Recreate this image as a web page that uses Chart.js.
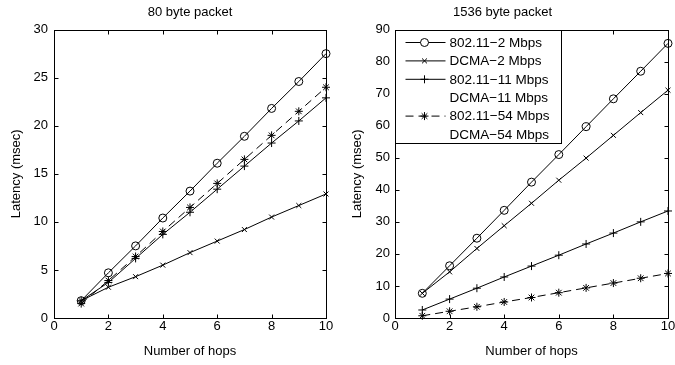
<!DOCTYPE html>
<html>
<head>
<meta charset="utf-8">
<script src="https://cdn.jsdelivr.net/npm/chart.js@4.4.0/dist/chart.umd.min.js"></script>
<style>
  html, body { margin: 0; padding: 0; background: #fff; overflow: hidden; }
  body { width: 675px; height: 365px; position: relative; }
  .box { position: absolute; top: 0; height: 365px; }
  #leftBox { left: 0; width: 337px; }
  #rightBox { left: 337px; width: 362px; }
</style>
</head>
<body>
<div class="box" id="leftBox"><canvas id="chart80"></canvas></div>
<div class="box" id="rightBox"><canvas id="chart1536"></canvas></div>
<script>
// hop counts on the x axis
var hops = [1, 2, 3, 4, 5, 6, 7, 8, 9, 10];
var seriesNames = ['802.11\u22122 Mbps', 'DCMA\u22122 Mbps', '802.11\u221211 Mbps',
                   'DCMA\u221211 Mbps', '802.11\u221254 Mbps', 'DCMA\u221254 Mbps'];

// 80 byte packet latency (msec)
var lat80_wifi2  = [1.8, 4.7, 7.5, 10.4, 13.2, 16.1, 18.9, 21.8, 24.6, 27.5];
var lat80_dcma2  = [1.8, 3.2, 4.3, 5.5, 6.8, 8.0, 9.2, 10.5, 11.7, 12.9];
var lat80_wifi11 = [1.8, 3.7, 6.2, 8.7, 11.0, 13.4, 15.8, 18.2, 20.5, 22.9];
var lat80_wifi54 = [1.5, 3.9, 6.4, 9.0, 11.5, 14.0, 16.5, 19.0, 21.5, 24.0];

// 1536 byte packet latency (msec)
var lat1536_wifi2  = [7.7, 16.3, 24.9, 33.6, 42.4, 51.0, 59.7, 68.4, 77.0, 85.7];
var lat1536_dcma2  = [7.7, 14.4, 21.7, 28.8, 35.8, 43.0, 49.9, 57.0, 64.1, 71.1];
var lat1536_wifi11 = [2.5, 5.9, 9.3, 12.8, 16.2, 19.6, 23.1, 26.5, 30.0, 33.4];
var lat1536_wifi54 = [0.7, 2.1, 3.5, 5.0, 6.4, 7.9, 9.4, 10.9, 12.4, 13.9];

// tick labels
var xTickValues = [0, 2, 4, 6, 8, 10];
var yTicks80 = [0, 5, 10, 15, 20, 25, 30];
var yTicks1536 = [0, 10, 20, 30, 40, 50, 60, 70, 80, 90];

Chart.defaults.font.family = '"Liberation Sans", Arial, sans-serif';
Chart.defaults.font.size = 13;
Chart.defaults.color = '#000';

// marker / line look for each series, same order as seriesNames
var styles = [
  { pointStyle: 'circle', pointRadius: 4, borderDash: [] },
  { pointStyle: 'crossRot', pointRadius: 3.5, borderDash: [] },
  { pointStyle: 'cross', pointRadius: 4, borderDash: [] },
  { pointStyle: false, pointRadius: 0, borderDash: [], hidden: true },
  { pointStyle: 'star', pointRadius: 4, borderDash: [8, 5] },
  { pointStyle: false, pointRadius: 0, borderDash: [], hidden: true }
];

function makeSets(values) {
  return seriesNames.map(function (name, i) {
    var vals = values[i];
    var st = styles[i];
    return {
      label: name,
      data: vals ? hops.map(function (h, j) { return { x: h, y: vals[j] }; }) : [],
      borderColor: st.hidden ? 'rgba(0,0,0,0)' : '#000',
      backgroundColor: 'rgba(0,0,0,0)',
      pointBorderColor: '#000',
      pointBackgroundColor: 'rgba(0,0,0,0)',
      borderWidth: 1,
      pointBorderWidth: 1,
      pointStyle: st.pointStyle,
      pointRadius: st.pointRadius,
      pointHoverRadius: st.pointRadius,
      borderDash: st.borderDash,
      noLine: !!st.hidden,
      tension: 0,
      clip: false
    };
  });
}

// matlab style box with inward ticks on all four sides
var boxTicks = {
  id: 'boxTicks',
  afterDatasetsDraw: function (chart) {
    var ctx = chart.ctx, a = chart.chartArea;
    var sx = chart.scales.x, sy = chart.scales.y;
    var t = 4;
    ctx.save();
    ctx.strokeStyle = '#000';
    ctx.lineWidth = 1;
    ctx.setLineDash([]);
    var l = Math.round(a.left) + 0.5, r = Math.round(a.right) + 0.5;
    var tp = Math.round(a.top) + 0.5, b = Math.round(a.bottom) + 0.5;
    ctx.strokeRect(l, tp, r - l, b - tp);
    ctx.beginPath();
    sx.ticks.forEach(function (tk) {
      var px = Math.round(sx.getPixelForValue(tk.value)) + 0.5;
      ctx.moveTo(px, b); ctx.lineTo(px, b - t);
      ctx.moveTo(px, tp); ctx.lineTo(px, tp + t);
    });
    sy.ticks.forEach(function (tk) {
      var py = Math.round(sy.getPixelForValue(tk.value)) + 0.5;
      ctx.moveTo(l, py); ctx.lineTo(l + t, py);
      ctx.moveTo(r, py); ctx.lineTo(r - t, py);
    });
    ctx.stroke();
    ctx.restore();
  }
};

// legend drawn inside the top left corner of the axes
var insideLegend = {
  id: 'insideLegend',
  afterDraw: function (chart, args, opts) {
    if (!opts.display) return;
    var ctx = chart.ctx, a = chart.chartArea;
    var sets = chart.data.datasets;
    var rowH = 18.4, textX = 54;
    ctx.save();
    ctx.font = '13.5px "Liberation Sans", Arial, sans-serif';
    var maxW = 0;
    sets.forEach(function (d) { maxW = Math.max(maxW, ctx.measureText(d.label).width); });
    var x0 = Math.round(a.left) + 0.5, y0 = Math.round(a.top) + 0.5;
    var w = Math.round(textX + maxW + 12), h = Math.round(rowH * sets.length + 3);
    ctx.fillStyle = '#fff';
    ctx.fillRect(x0, y0, w, h);
    ctx.strokeStyle = '#000';
    ctx.lineWidth = 1;
    ctx.strokeRect(x0, y0, w, h);
    sets.forEach(function (d, i) {
      var cy = y0 + 12 + i * rowH;
      if (!d.noLine) {
        ctx.beginPath();
        ctx.setLineDash(d.borderDash || []);
        ctx.moveTo(x0 + 10, cy); ctx.lineTo(x0 + 50, cy);
        ctx.stroke();
        ctx.setLineDash([]);
        if (d.pointStyle) {
          Chart.helpers.drawPoint(ctx, { pointStyle: d.pointStyle, radius: d.pointRadius, borderWidth: 1, rotation: 0 }, x0 + 29, cy);
        }
      }
      ctx.fillStyle = '#000';
      ctx.textBaseline = 'middle';
      ctx.textAlign = 'left';
      ctx.fillText(d.label, x0 + textX, cy + 0.5);
    });
    ctx.restore();
  }
};

function makeChart(id, title, values, yTicks, yMax, opt) {
  return new Chart(document.getElementById(id), {
    type: 'line',
    data: { datasets: makeSets(values) },
    plugins: [boxTicks, insideLegend],
    options: {
      responsive: true,
      maintainAspectRatio: false,
      animation: false,
      events: [],
      layout: { padding: { left: 0, right: opt.padRight, top: 0, bottom: 0 } },
      plugins: {
        legend: { display: false },
        tooltip: { enabled: false },
        insideLegend: { display: opt.legend },
        title: {
          display: true,
          text: title,
          fullSize: opt.titleFull,
          font: { size: 13, weight: 'normal' },
          padding: { top: 5, bottom: 9 }
        }
      },
      scales: {
        x: {
          type: 'linear',
          min: 0, max: 10,
          afterBuildTicks: function (s) { s.ticks = xTickValues.map(function (v) { return { value: v }; }); },
          afterFit: function (s) { s.height = 47; },
          grid: { display: false, drawTicks: false },
          border: { display: false },
          ticks: { padding: 1, font: { size: 13 } },
          title: { display: true, text: 'Number of hops', font: { size: 13 }, padding: { top: 0, bottom: 6 } }
        },
        y: {
          type: 'linear',
          min: 0, max: yMax,
          afterBuildTicks: function (s) { s.ticks = yTicks.map(function (v) { return { value: v }; }); },
          afterFit: function (s) { s.width = opt.axisW; },
          grid: { display: false, drawTicks: false },
          border: { display: false },
          ticks: { padding: opt.tickPad, font: { size: 13 } },
          title: { display: true, text: 'Latency (msec)', font: { size: 13 }, padding: { top: opt.titlePad, bottom: 0 } }
        }
      }
    }
  });
}

makeChart('chart80', '80 byte packet',
  [lat80_wifi2, lat80_dcma2, lat80_wifi11, null, lat80_wifi54, null],
  yTicks80, 30,
  { padRight: 11, axisW: 54, tickPad: 6, titlePad: 9, legend: false, titleFull: false });

makeChart('chart1536', '1536 byte packet',
  [lat1536_wifi2, lat1536_dcma2, lat1536_wifi11, null, lat1536_wifi54, null],
  yTicks1536, 90,
  { padRight: 31, axisW: 58, tickPad: 5, titlePad: 13, legend: true, titleFull: true });
</script>
</body>
</html>
